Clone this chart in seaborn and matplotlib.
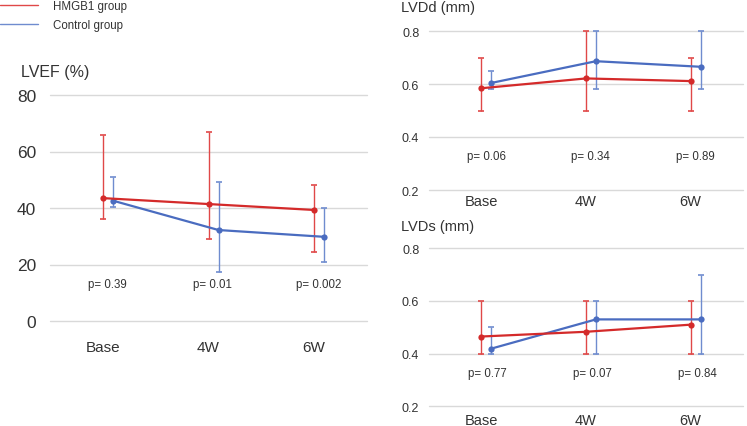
import numpy as np
import pandas as pd
import matplotlib
matplotlib.use("Agg")
import matplotlib.pyplot as plt
from matplotlib.lines import Line2D
import seaborn as sns

sns.set_theme(style="white")
plt.rcParams['font.family'] = ['Liberation Sans', 'DejaVu Sans']

categories = ["Base", "4W", "6W"]
groups = ["HMGB1 group", "Control group"]

# LVEF (%)
lvef_hmgb1 = [43.5, 41.4, 39.3]
lvef_hmgb1_hi = [65.8, 67.0, 48.2]
lvef_hmgb1_lo = [36.1, 29.0, 24.3]
lvef_ctrl = [42.6, 32.2, 29.8]
lvef_ctrl_hi = [51.0, 49.2, 40.0]
lvef_ctrl_lo = [40.2, 17.2, 21.0]
lvef_p = ["p= 0.39", "p= 0.01", "p= 0.002"]

# LVDd (mm)
lvdd_hmgb1 = [0.584, 0.621, 0.611]
lvdd_hmgb1_hi = [0.70, 0.80, 0.70]
lvdd_hmgb1_lo = [0.50, 0.50, 0.50]
lvdd_ctrl = [0.604, 0.686, 0.665]
lvdd_ctrl_hi = [0.65, 0.80, 0.80]
lvdd_ctrl_lo = [0.58, 0.58, 0.58]
lvdd_p = ["p= 0.06", "p= 0.34", "p= 0.89"]

# LVDs (mm)
lvds_hmgb1 = [0.465, 0.483, 0.510]
lvds_hmgb1_hi = [0.60, 0.60, 0.60]
lvds_hmgb1_lo = [0.40, 0.40, 0.40]
lvds_ctrl = [0.419, 0.530, 0.530]
lvds_ctrl_hi = [0.50, 0.60, 0.70]
lvds_ctrl_lo = [0.40, 0.40, 0.40]
lvds_p = ["p= 0.77", "p= 0.07", "p= 0.84"]

RED = "#d42a2a"
RED_E = "#e04848"
BLUE = "#4a6cc0"
BLUE_E = "#6f8ccf"
TXT = "#333333"
GRID = "#d9d9d9"

fig = plt.figure(figsize=(7.47, 4.27), dpi=100)

W, H = 747.0, 427.0
def axrect(x0, x1, ytop, ybot):
    return [x0 / W, 1 - ybot / H, (x1 - x0) / W, (ybot - ytop) / H]

ax_ef = fig.add_axes(axrect(50, 367, 96, 322))
ax_dd = fig.add_axes(axrect(429, 743, 32, 191))
ax_ds = fig.add_axes(axrect(429, 743, 249.3, 407.3))

OFF = 0.095

def panel(ax, h, hhi, hlo, c, chi, clo, pvals, ylim, ticks, fmt, py, pad, poff):
    x = np.arange(len(categories))
    df = pd.DataFrame({
        "x": np.concatenate([x, x + OFF]),
        "value": h + c,
        "group": [groups[0]] * 3 + [groups[1]] * 3,
    })
    # error bars
    for xs, m, hi, lo, col in [(x, h, hhi, hlo, RED_E), (x + OFF, c, chi, clo, BLUE_E)]:
        m = np.array(m); hi = np.array(hi); lo = np.array(lo)
        eb = ax.errorbar(xs, m, yerr=[m - lo, hi - m], fmt="none", ecolor=col,
                         elinewidth=1.0, capsize=2.0, capthick=1.2, zorder=2)
        for art in eb.lines[1]:
            art.set_clip_on(False)
        for art in eb.lines[2]:
            art.set_clip_on(False)
    sns.lineplot(data=df, x="x", y="value", hue="group", hue_order=groups,
                 palette=[RED, BLUE], marker="o", markersize=4.5,
                 markeredgewidth=0, linewidth=1.6, legend=False, ax=ax,
                 zorder=3)
    for line in ax.get_lines():
        if line.get_color() == RED:
            line.set_zorder(4)
    for i, t in enumerate(pvals):
        ax.text(i + poff, py, t, ha="center", va="center", fontsize=8.3, color=TXT)
    ax.set_xlim(-0.5, 2.5)
    ax.set_ylim(*ylim)
    ax.set_yticks(ticks)
    ax.set_yticklabels([fmt(t) for t in ticks])
    ax.set_xticks(x)
    ax.set_xticklabels(categories)
    ax.set_xlabel("")
    ax.set_ylabel("")
    ax.yaxis.grid(True, color=GRID, linewidth=1.0)
    for gl in ax.get_ygridlines():
        gl.set_clip_on(False)
    ax.set_axisbelow(True)
    for s in ax.spines.values():
        s.set_visible(False)
    ax.tick_params(axis="both", length=0, colors=TXT)
    ax.tick_params(axis="x", pad=pad)
    ax.set_facecolor("none")

panel(ax_ef, lvef_hmgb1, lvef_hmgb1_hi, lvef_hmgb1_lo, lvef_ctrl, lvef_ctrl_hi, lvef_ctrl_lo,
      lvef_p, (0, 80), [0, 20, 40, 60, 80], lambda t: f"{t:d}", 13, 14, 0.04)
ax_ef.tick_params(axis="y", labelsize=12.5, pad=10)
ax_ef.tick_params(axis="x", labelsize=11)

panel(ax_dd, lvdd_hmgb1, lvdd_hmgb1_hi, lvdd_hmgb1_lo, lvdd_ctrl, lvdd_ctrl_hi, lvdd_ctrl_lo,
      lvdd_p, (0.2, 0.8), [0.2, 0.4, 0.6, 0.8], lambda t: f"{t:.1f}", 0.33, 3, 0.045)
ax_dd.tick_params(axis="y", labelsize=9, pad=7)
ax_dd.tick_params(axis="x", labelsize=10.5)

panel(ax_ds, lvds_hmgb1, lvds_hmgb1_hi, lvds_hmgb1_lo, lvds_ctrl, lvds_ctrl_hi, lvds_ctrl_lo,
      lvds_p, (0.2, 0.8), [0.2, 0.4, 0.6, 0.8], lambda t: f"{t:.1f}", 0.328, 4.5, 0.06)
ax_ds.tick_params(axis="y", labelsize=9, pad=7)
ax_ds.tick_params(axis="x", labelsize=10.5)

fig.text(21 / W, 1 - 72 / H, "LVEF (%)", ha="left", va="center", fontsize=11.5, color=TXT)
fig.text(401 / W, 1 - 8 / H, "LVDd (mm)", ha="left", va="center", fontsize=10.5, color=TXT)
fig.text(401 / W, 1 - 227 / H, "LVDs (mm)", ha="left", va="center", fontsize=10.5, color=TXT)

handles = [Line2D([0], [0], color=RED_E, lw=1.0), Line2D([0], [0], color=BLUE_E, lw=1.0)]
fig.legend(handles, groups, loc="upper left", bbox_to_anchor=(0.0, 1.0 - 1 / H),
           frameon=False, fontsize=8.3, handlelength=3.3, handletextpad=1.3,
           borderpad=0.0, borderaxespad=0.0, labelspacing=0.65, labelcolor=TXT)

fig.savefig("out.png", dpi=100)
